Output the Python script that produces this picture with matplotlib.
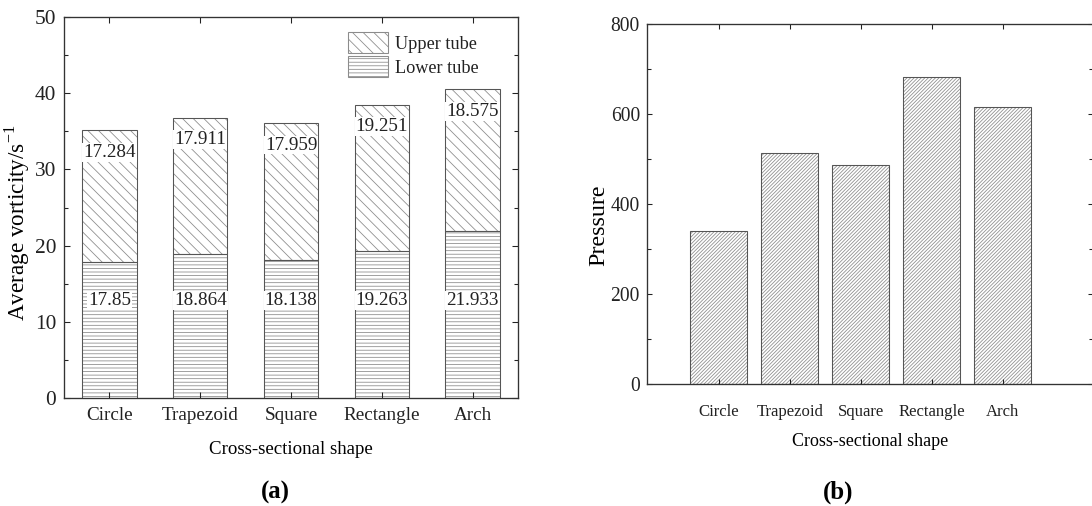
import numpy as np
import matplotlib.pyplot as plt
from matplotlib.patches import Patch
from matplotlib.ticker import MultipleLocator

# data
shapes = ['Circle', 'Trapezoid', 'Square', 'Rectangle', 'Arch']
lower_tube = [17.85, 18.864, 18.138, 19.263, 21.933]
upper_tube = [17.284, 17.911, 17.959, 19.251, 18.575]
pressure = [340, 513, 487, 682, 616]

plt.rcParams['font.family'] = ['Liberation Serif', 'DejaVu Serif']
plt.rcParams['hatch.linewidth'] = 0.9
plt.rcParams['text.color'] = '#222222'
plt.rcParams['xtick.color'] = '#222222'
plt.rcParams['ytick.color'] = '#222222'

# low dpi so the hatch spacing comes out close to the original
DPI = 64
W, H = 1092, 506
fig = plt.figure(figsize=(W / DPI, H / DPI), dpi=DPI)

hatch_col = '#8c8c8c'
edge_col = '#555555'
spine_col = '#333333'

x = np.arange(len(shapes))
lower = np.array(lower_tube)
upper = np.array(upper_tube)

# ---------- (a) stacked vorticity ----------
ax1 = fig.add_axes([64 / W, 108 / H, 454 / W, 381 / H])
ax1.bar(x, lower, 0.6, color='white', edgecolor=hatch_col, hatch='---', linewidth=0)
ax1.bar(x, upper, 0.6, bottom=lower, color='white', edgecolor=hatch_col, hatch='\\\\', linewidth=0)
ax1.bar(x, lower, 0.6, fill=False, edgecolor=edge_col, linewidth=1.2)
ax1.bar(x, upper, 0.6, bottom=lower, fill=False, edgecolor=edge_col, linewidth=1.2)

for i in range(len(shapes)):
    ax1.text(x[i], 12.8, str(lower_tube[i]), ha='center', va='center', fontsize=21.5,
             bbox=dict(fc='white', ec='none', pad=1))
    ax1.text(x[i], lower[i] + upper[i] - 2.9, str(upper_tube[i]), ha='center', va='center',
             fontsize=21.5, bbox=dict(fc='white', ec='none', pad=1))

ax1.set_xlim(-0.5, 4.5)
ax1.set_ylim(0, 50)
ax1.set_xticks(x, shapes, fontsize=21.5)
ax1.set_yticks(np.arange(0, 51, 10))
ax1.yaxis.set_minor_locator(MultipleLocator(5))
ax1.tick_params(axis='y', labelsize=24)
ax1.tick_params(which='both', direction='in', top=True, right=True, width=1.2)
ax1.tick_params(which='major', length=7)
ax1.tick_params(which='minor', length=4)
ax1.tick_params(axis='x', pad=10)
ax1.tick_params(axis='y', pad=9)
for s in ax1.spines.values():
    s.set_color(spine_col)
    s.set_linewidth(1.5)
ax1.set_xlabel('Cross-sectional shape', fontsize=21.3, labelpad=19)
ax1.set_ylabel('Average vorticity/s$^{\\mathregular{-1}}$', fontsize=26)
ax1.yaxis.set_label_coords(-0.07, 0.46)

handles = [Patch(facecolor='white', edgecolor=hatch_col, hatch='\\\\', linewidth=1.2, label='Upper tube'),
           Patch(facecolor='white', edgecolor=hatch_col, hatch='---', linewidth=1.2, label='Lower tube')]
ax1.legend(handles=handles, loc='upper left', bbox_to_anchor=(0.625, 0.96), frameon=False,
           fontsize=20.5, handlelength=2.2, handleheight=1.4, handletextpad=0.4,
           labelspacing=0.15, borderpad=0, borderaxespad=0)

# ---------- (b) pressure ----------
ax2 = fig.add_axes([647 / W, 122 / H, 446 / W, 360 / H])
ax2.bar(x, pressure, 0.8, color='white', edgecolor='#8e8e8e', hatch='//////', linewidth=0)
ax2.bar(x, pressure, 0.8, fill=False, edgecolor=edge_col, linewidth=1.2)
ax2.set_xlim(-1.01, 5.27)
ax2.set_ylim(0, 800)
ax2.set_xticks(x, shapes, fontsize=18.8)
ax2.set_yticks(np.arange(0, 801, 200))
ax2.yaxis.set_minor_locator(MultipleLocator(100))
ax2.tick_params(axis='y', labelsize=22)
ax2.tick_params(which='both', direction='in', top=True, right=True, width=1.2)
ax2.tick_params(which='major', length=6)
ax2.tick_params(which='minor', length=4)
ax2.tick_params(axis='x', pad=22)
ax2.tick_params(axis='y', pad=8)
for s in ax2.spines.values():
    s.set_color(spine_col)
    s.set_linewidth(1.5)
ax2.set_xlabel('Cross-sectional shape', fontsize=20.3, labelpad=15)
ax2.set_ylabel('Pressure', fontsize=27)
ax2.yaxis.set_label_coords(-0.085, 0.44)

fig.text(275 / W, 1 - 492 / H, '(a)', ha='center', va='center', fontsize=28, fontweight='bold',
         color='black')
fig.text(838 / W, 1 - 492 / H, '(b)', ha='center', va='center', fontsize=28, fontweight='bold',
         color='black')

fig.savefig('out.png', dpi=DPI)
